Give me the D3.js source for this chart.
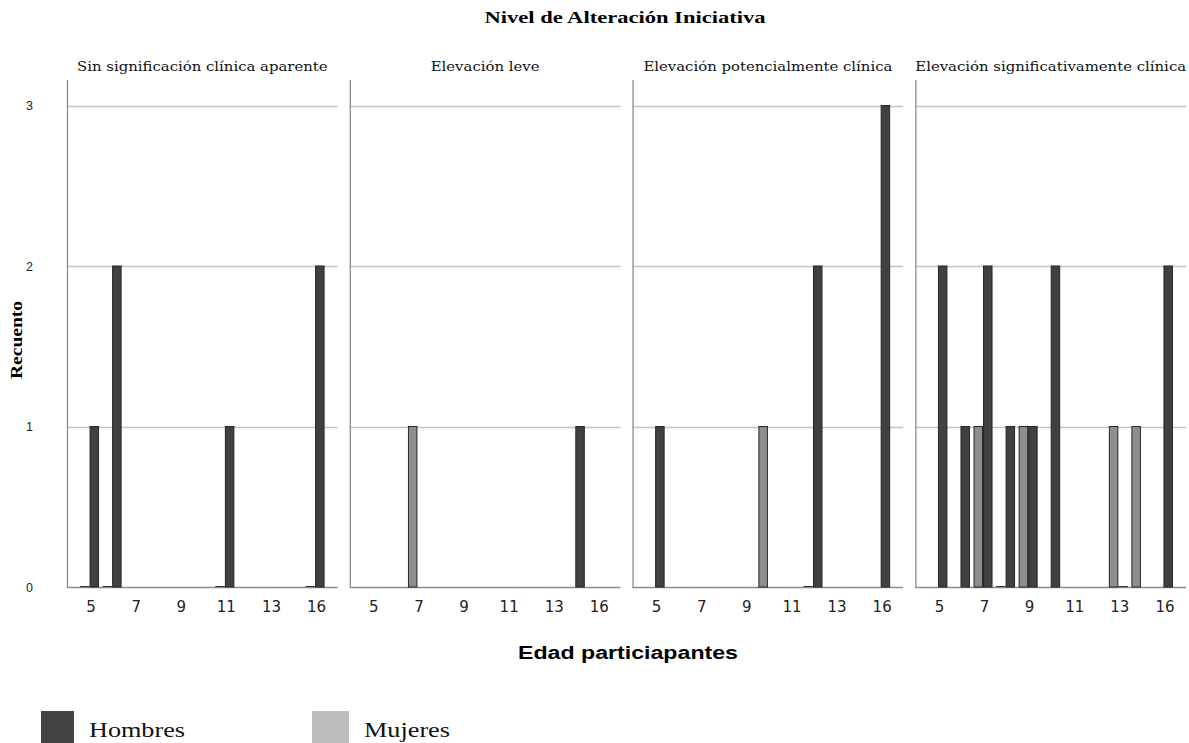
<!DOCTYPE html>
<html><head><meta charset="utf-8">
<script src="https://cdn.jsdelivr.net/npm/d3@7"></script>
<style>body{margin:0;background:#fff}</style>
</head><body><svg id="c" width="1189" height="743"></svg>
<script>
const chartTitle = "Nivel de Alteración Iniciativa";
const panels = ["Sin significación clínica aparente", "Elevación leve", "Elevación potencialmente clínica", "Elevación significativamente clínica"];
const ages = [5, 6, 7, 8, 9, 10, 11, 12, 13, 14, 16];
const tickAges = [5, 7, 9, 11, 13, 16];
const sexes = ["Hombres", "Mujeres"];
const yTicks = [0, 1, 2, 3];
// counts aligned with ages; null = no bar, 0 = zero-height bar
const hombresP1 = [1, 2, null, null, null, null, 1, null, null, null, 2];
const mujeresP1 = [0, 0, null, null, null, null, 0, null, null, null, 0];
const hombresP2 = [null, null, null, null, null, null, null, null, null, 1, null];
const mujeresP2 = [null, null, 1, null, null, null, null, null, null, null, null];
const hombresP3 = [1, null, null, null, null, null, null, 2, null, null, 3];
const mujeresP3 = [null, null, null, null, null, 1, null, 0, null, null, null];
const hombresP4 = [2, 1, 2, 1, 1, 2, null, null, 0, null, 2];
const mujeresP4 = [null, null, 1, 0, 1, null, null, null, 1, 1, null];

const seriesByPanel = [
  {Hombres: hombresP1, Mujeres: mujeresP1},
  {Hombres: hombresP2, Mujeres: mujeresP2},
  {Hombres: hombresP3, Mujeres: mujeresP3},
  {Hombres: hombresP4, Mujeres: mujeresP4}
];
const barFill = {Hombres: "#404040", Mujeres: "#928d8d"};
const legendFill = {Hombres: "#434343", Mujeres: "#bdbdbd"};

const svg = d3.select("#c");
const px = d3.scaleBand().domain(panels).range([67, 1186]).paddingInner(0.043);
const y = d3.scaleLinear().domain([0, 3]).range([587, 105.5]);
const x = d3.scaleBand().domain(ages).range([0, px.bandwidth()]).paddingOuter(0.5);
const xs = d3.scaleBand().domain(["Mujeres", "Hombres"]).range([-9.5, 9.5]);
const plotTop = 80;

// title
svg.append("text").attr("x", 625).attr("y", 23).attr("text-anchor", "middle")
  .attr("font-family", "Liberation Serif").attr("font-weight", "bold").attr("font-size", 16)
  .attr("textLength", 281).attr("lengthAdjust", "spacingAndGlyphs").text(chartTitle);

panels.forEach((p, i) => {
  const g = svg.append("g").attr("transform", `translate(${px(p)},0)`);
  const w = px.bandwidth();
  // gridlines
  g.selectAll("line.grid").data(yTicks.filter(t => t > 0)).join("line")
    .attr("x1", 0).attr("x2", w).attr("y1", d => Math.round(y(d)) + 0.5).attr("y2", d => Math.round(y(d)) + 0.5)
    .attr("stroke", "#c4c4c4").attr("stroke-width", 1.3);
  // baseline
  g.append("line").attr("x1", 0).attr("x2", w).attr("y1", Math.round(y(0)) + 0.5).attr("y2", Math.round(y(0)) + 0.5)
    .attr("stroke", "#8c8c8c").attr("stroke-width", 1.3);
  // left axis
  g.append("line").attr("x1", 0.5).attr("x2", 0.5).attr("y1", plotTop).attr("y2", Math.round(y(0)) + 1)
    .attr("stroke", "#8c8c8c").attr("stroke-width", 1.3);
  // panel title (stretched horizontally like the reference)
  const t = g.append("text").attr("x", w / 2).attr("y", 71).attr("text-anchor", "middle")
    .attr("font-family", "DejaVu Serif").attr("font-size", 12.5).attr("fill", "#111").text(p);
  const nat = t.node().getComputedTextLength();
  t.attr("textLength", nat * 1.19).attr("lengthAdjust", "spacingAndGlyphs");
  // bars
  sexes.forEach(s => {
    const vals = seriesByPanel[i][s];
    const recs = ages.map((a, k) => ({age: a, v: vals[k]})).filter(d => d.v !== null);
    g.selectAll(`rect.b${s}`).data(recs.filter(d => d.v > 0)).join("rect")
      .attr("x", d => x(d.age) + x.bandwidth() / 2 + xs(s) + 0.5)
      .attr("y", d => y(d.v))
      .attr("width", xs.bandwidth() - 1)
      .attr("height", d => y(0) - y(d.v))
      .attr("fill", barFill[s]).attr("stroke", "#262626").attr("stroke-width", 1);
    g.selectAll(`line.z${s}`).data(recs.filter(d => d.v === 0)).join("line")
      .attr("x1", d => x(d.age) + x.bandwidth() / 2 + xs(s))
      .attr("x2", d => x(d.age) + x.bandwidth() / 2 + xs(s) + xs.bandwidth())
      .attr("y1", Math.round(y(0)) - 0.5).attr("y2", Math.round(y(0)) - 0.5)
      .attr("stroke", "#333").attr("stroke-width", 1);
  });
  // x tick labels
  g.selectAll("text.xt").data(tickAges).join("text")
    .attr("x", d => x(d) + x.bandwidth() / 2 + 1.5).attr("y", 612).attr("text-anchor", "middle")
    .attr("font-family", "DejaVu Sans").attr("font-size", 15).attr("fill", "#222").text(d => d);
});

// y tick labels
svg.selectAll("text.yt").data(yTicks).join("text")
  .attr("x", 33).attr("y", d => y(d) + 4.5).attr("text-anchor", "end")
  .attr("font-family", "Liberation Sans").attr("font-size", 12.5).attr("fill", "#222").text(d => d);

// y axis title
svg.append("text").attr("transform", "translate(22,340) rotate(-90)").attr("text-anchor", "middle")
  .attr("font-family", "Liberation Serif").attr("font-weight", "bold").attr("font-size", 16)
  .attr("textLength", 78).attr("lengthAdjust", "spacingAndGlyphs").text("Recuento");

// x axis title
svg.append("text").attr("x", 628).attr("y", 659).attr("text-anchor", "middle")
  .attr("font-family", "Liberation Sans").attr("font-weight", "bold").attr("font-size", 18)
  .attr("textLength", 220).attr("lengthAdjust", "spacingAndGlyphs").text("Edad particiapantes");

// legend
const legX = d3.scaleOrdinal().domain(sexes).range([41, 312]);
const legW = {Hombres: 33, Mujeres: 37};
const legTW = {Hombres: 96, Mujeres: 86};
const lg = svg.append("g");
lg.selectAll("rect").data(sexes).join("rect")
  .attr("x", d => legX(d)).attr("y", 711).attr("width", d => legW[d]).attr("height", 32)
  .attr("fill", d => legendFill[d]);
lg.selectAll("text").data(sexes).join("text")
  .attr("x", d => legX(d) + legW[d] + 15).attr("y", 737)
  .attr("font-family", "Liberation Serif").attr("font-size", 21).attr("fill", "#111")
  .attr("textLength", d => legTW[d]).attr("lengthAdjust", "spacingAndGlyphs").text(d => d);
</script></body></html>
